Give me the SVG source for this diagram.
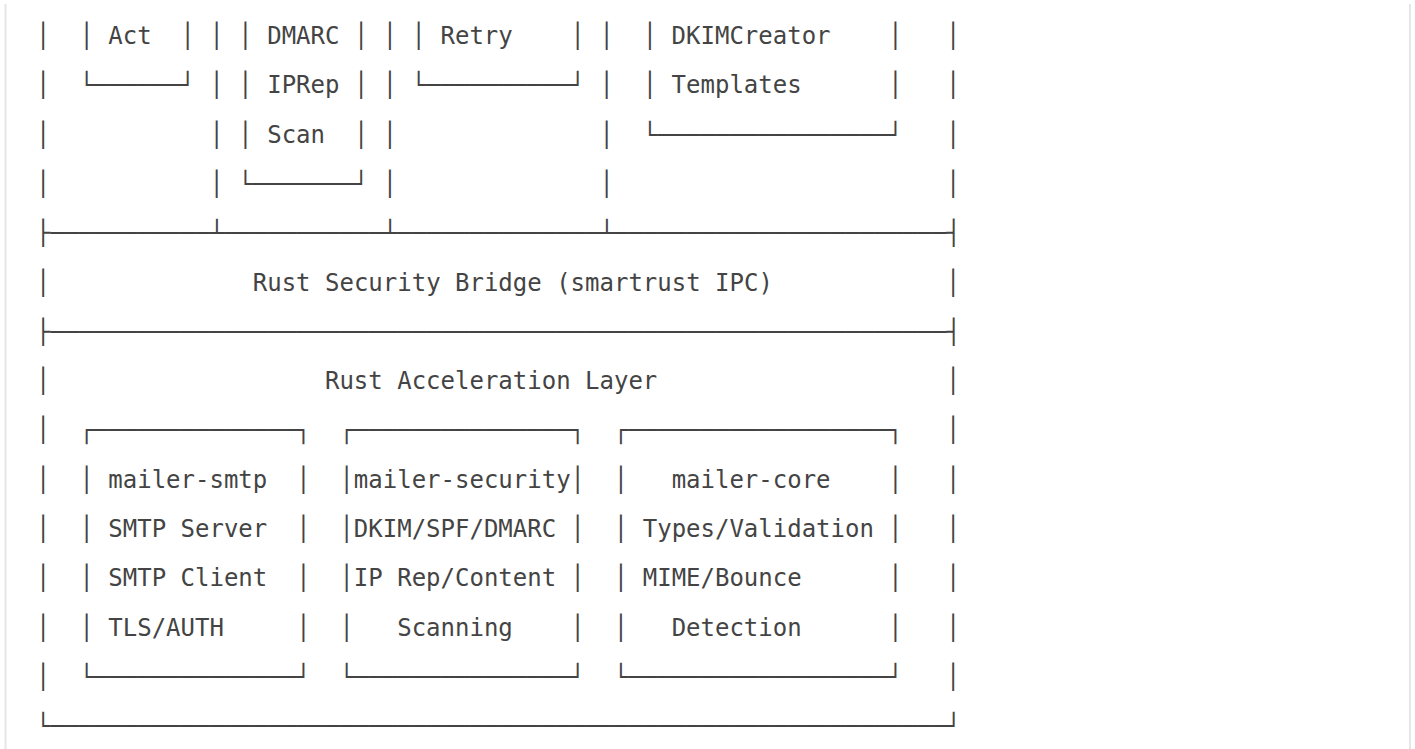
<svg xmlns="http://www.w3.org/2000/svg" width="1415" height="749" viewBox="0 0 1415 749" xml:space="preserve">
<style>
.t{font-family:"DejaVu Sans Mono","Liberation Mono",monospace;font-size:24px;fill:#444;white-space:pre;}
.frame{stroke:#e6e6e6;stroke-width:2;fill:none;}
</style>
<rect x="0" y="0" width="1415" height="749" fill="#ffffff"/>
<g id="code-block-border">
<line class="frame" x1="5.5" y1="4" x2="5.5" y2="749"/>
<line class="frame" x1="1410" y1="4" x2="1410" y2="749"/>
</g>
<g id="connectors">
<text class="t"><tspan x="36.08" y="44">│</tspan><tspan x="36.08" y="93.3">│</tspan><tspan x="36.08" y="142.6">│</tspan><tspan x="36.08" y="191.9">│</tspan><tspan x="36.08" y="290.5">│</tspan><tspan x="36.08" y="389.1">│</tspan><tspan x="36.08" y="438.4">│</tspan><tspan x="36.08" y="487.7">│</tspan><tspan x="36.08" y="537">│</tspan><tspan x="36.08" y="586.3">│</tspan><tspan x="36.08" y="635.6">│</tspan><tspan x="36.08" y="684.9">│</tspan></text>
<text class="t"><tspan x="946.05" y="44">│</tspan><tspan x="946.05" y="93.3">│</tspan><tspan x="946.05" y="142.6">│</tspan><tspan x="946.05" y="191.9">│</tspan><tspan x="946.05" y="290.5">│</tspan><tspan x="946.05" y="389.1">│</tspan><tspan x="946.05" y="438.4">│</tspan><tspan x="946.05" y="487.7">│</tspan><tspan x="946.05" y="537">│</tspan><tspan x="946.05" y="586.3">│</tspan><tspan x="946.05" y="635.6">│</tspan><tspan x="946.05" y="684.9">│</tspan></text>
<text class="t"><tspan x="209.41" y="44">│</tspan><tspan x="209.41" y="93.3">│</tspan><tspan x="209.41" y="142.6">│</tspan><tspan x="209.41" y="191.9">│</tspan></text>
<text class="t"><tspan x="382.74" y="44">│</tspan><tspan x="382.74" y="93.3">│</tspan><tspan x="382.74" y="142.6">│</tspan><tspan x="382.74" y="191.9">│</tspan></text>
<text class="t"><tspan x="599.40" y="44">│</tspan><tspan x="599.40" y="93.3">│</tspan><tspan x="599.40" y="142.6">│</tspan><tspan x="599.40" y="191.9">│</tspan></text>
<text class="t" x="36.08" y="241.2">├───────────┴───────────┴──────────────┴───────────────────────┤</text>
<text class="t" x="36.08" y="339.8">├──────────────────────────────────────────────────────────────┤</text>
<text class="t" x="36.08" y="734.2">└──────────────────────────────────────────────────────────────┘</text>
</g>
<g id="node-act">
<text class="t" x="79.41" y="44" xml:space="preserve">│ Act  │</text>
<text class="t" x="79.41" y="93.3">└──────┘</text>
</g>
<g id="node-dmarc-iprep-scan">
<text class="t" x="238.30" y="44" xml:space="preserve">│ DMARC │</text>
<text class="t" x="238.30" y="93.3" xml:space="preserve">│ IPRep │</text>
<text class="t" x="238.30" y="142.6" xml:space="preserve">│ Scan  │</text>
<text class="t" x="238.30" y="191.9">└───────┘</text>
</g>
<g id="node-retry">
<text class="t" x="411.62" y="44" xml:space="preserve">│ Retry    │</text>
<text class="t" x="411.62" y="93.3">└──────────┘</text>
</g>
<g id="node-dkimcreator">
<text class="t" x="642.73" y="44" xml:space="preserve">│ DKIMCreator    │</text>
<text class="t" x="642.73" y="93.3" xml:space="preserve">│ Templates      │</text>
<text class="t" x="642.73" y="142.6">└────────────────┘</text>
</g>
<g id="node-bridge">
<text class="t" x="252.74" y="290.5">Rust Security Bridge (smartrust IPC)</text>
</g>
<g id="node-acceleration-layer">
<text class="t" x="324.96" y="389.1">Rust Acceleration Layer</text>
</g>
<g id="node-mailer-smtp">
<text class="t" x="79.41" y="438.4">┌──────────────┐</text>
<text class="t" x="79.41" y="487.7" xml:space="preserve">│ mailer-smtp  │</text>
<text class="t" x="79.41" y="537" xml:space="preserve">│ SMTP Server  │</text>
<text class="t" x="79.41" y="586.3" xml:space="preserve">│ SMTP Client  │</text>
<text class="t" x="79.41" y="635.6" xml:space="preserve">│ TLS/AUTH     │</text>
<text class="t" x="79.41" y="684.9">└──────────────┘</text>
</g>
<g id="node-mailer-security">
<text class="t" x="339.40" y="438.4">┌───────────────┐</text>
<text class="t" x="339.40" y="487.7">│mailer-security│</text>
<text class="t" x="339.40" y="537" xml:space="preserve">│DKIM/SPF/DMARC │</text>
<text class="t" x="339.40" y="586.3" xml:space="preserve">│IP Rep/Content │</text>
<text class="t" x="339.40" y="635.6" xml:space="preserve">│   Scanning    │</text>
<text class="t" x="339.40" y="684.9">└───────────────┘</text>
</g>
<g id="node-mailer-core">
<text class="t" x="613.84" y="438.4">┌──────────────────┐</text>
<text class="t" x="613.84" y="487.7" xml:space="preserve">│   mailer-core    │</text>
<text class="t" x="613.84" y="537" xml:space="preserve">│ Types/Validation │</text>
<text class="t" x="613.84" y="586.3" xml:space="preserve">│ MIME/Bounce      │</text>
<text class="t" x="613.84" y="635.6" xml:space="preserve">│   Detection      │</text>
<text class="t" x="613.84" y="684.9">└──────────────────┘</text>
</g>
</svg>
